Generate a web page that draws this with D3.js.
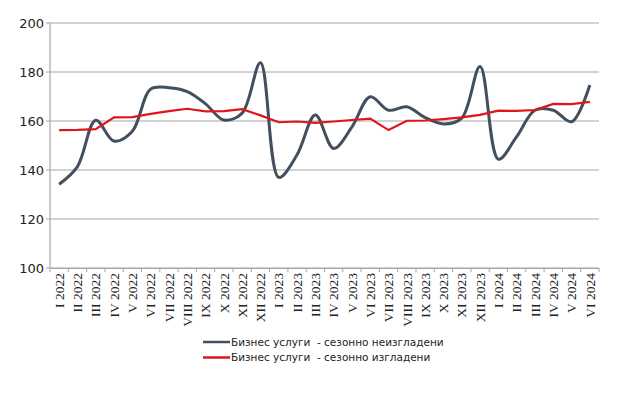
<!DOCTYPE html>
<html><head><meta charset="utf-8">
<script src="https://cdn.jsdelivr.net/npm/d3@7"></script>
<style>body{margin:0;background:#fff}svg{display:block}</style>
</head><body>
<svg id="c" width="640" height="417"></svg>
<script>
const categories = ["I 2022","II 2022","III 2022","IV 2022","V 2022","VI 2022","VII 2022","VIII 2022","IX 2022","X 2022","XI 2022","XII 2022",
"I 2023","II 2023","III 2023","IV 2023","V 2023","VI 2023","VII 2023","VIII 2023","IX 2023","X 2023","XI 2023","XII 2023",
"I 2024","II 2024","III 2024","IV 2024","V 2024","VI 2024"];
const unadjusted = [134.2,141.4,160.3,151.8,155.8,173.0,173.6,172.0,167.0,160.4,163.2,183.8,
137.0,146.2,162.4,148.8,157.6,169.9,164.4,165.8,161.4,158.8,161.2,182.2,
144.4,153.6,164.4,164.4,159.7,174.7];
const adjusted = [156.3,156.4,156.7,161.5,161.6,162.9,164.0,165.0,163.9,164.0,164.8,162.3,
159.5,159.8,159.2,159.8,160.4,161.0,156.3,160.1,160.2,160.8,161.5,162.5,
164.2,164.1,164.5,167.0,166.9,167.8];
const yTicks = [100,120,140,160,180,200];
const seriesNames = ["Бизнес услуги  - сезонно неизгладени","Бизнес услуги  - сезонно изгладени"];
const colors = ["#414f5e","#e0151b"];

const svg = d3.select("#c");
const L=50, R=599, T=23, B=268;
const x = d3.scaleBand().domain(categories).range([L,R]);
const y = d3.scaleLinear().domain([100,200]).range([B,T]);

// grid
svg.append("g").selectAll("line").data(yTicks).join("line")
  .attr("x1",L-4).attr("x2",R).attr("y1",d=>y(d)).attr("y2",d=>y(d))
  .attr("stroke","#a6a6a6").attr("stroke-width",1.2);
// y axis line
svg.append("line").attr("x1",L).attr("x2",L).attr("y1",T).attr("y2",B).attr("stroke","#a6a6a6").attr("stroke-width",1.2);
svg.append("g").selectAll("text").data(yTicks).join("text")
  .attr("x",L-6).attr("y",d=>y(d)).attr("dy","0.35em").attr("text-anchor","end")
  .attr("font-family","DejaVu Sans").attr("font-size",13).attr("fill","#222").text(d=>d);

// x axis
const xa = svg.append("g").attr("transform",`translate(0,${B})`)
  .call(d3.axisBottom(x).tickSize(0).tickFormat(""));
xa.select(".domain").attr("stroke","#a6a6a6").attr("stroke-width",1.2);
const bounds = categories.map(c=>x(c)).concat([R]);
svg.append("g").selectAll("line").data(bounds).join("line")
  .attr("x1",d=>d).attr("x2",d=>d).attr("y1",B).attr("y2",B+4)
  .attr("stroke","#a6a6a6").attr("stroke-width",1);
svg.append("g").selectAll("text").data(categories).join("text")
  .attr("transform",d=>`translate(${x(d)+x.bandwidth()/2},${B+5}) rotate(-90)`)
  .attr("text-anchor","end").attr("dy","0.35em")
  .attr("font-family","Liberation Serif").attr("font-size",13.5).attr("fill","#222").text(d=>d);

// lines
const cx = (d,i)=>x(categories[i])+x.bandwidth()/2;
svg.append("path").datum(unadjusted)
  .attr("d",d3.line().x(cx).y(d=>y(d)).curve(d3.curveCatmullRom.alpha(0.5)))
  .attr("fill","none").attr("stroke",colors[0]).attr("stroke-width",3);
svg.append("path").datum(adjusted)
  .attr("d",d3.line().x(cx).y(d=>y(d)))
  .attr("fill","none").attr("stroke",colors[1]).attr("stroke-width",2.2);

// legend
const lg = svg.append("g");
seriesNames.forEach((n,i)=>{
  const yy = 342 + i*15.5;
  lg.append("line").attr("x1",203).attr("x2",230).attr("y1",yy).attr("y2",yy)
    .attr("stroke",colors[i]).attr("stroke-width",2.5);
  lg.append("text").attr("x",231).attr("y",yy).attr("dy","0.35em")
    .attr("font-family","DejaVu Sans").attr("font-size",10.5).attr("fill","#222")
    .attr("xml:space","preserve").style("white-space","pre").text(n);
});
</script>
</body></html>
